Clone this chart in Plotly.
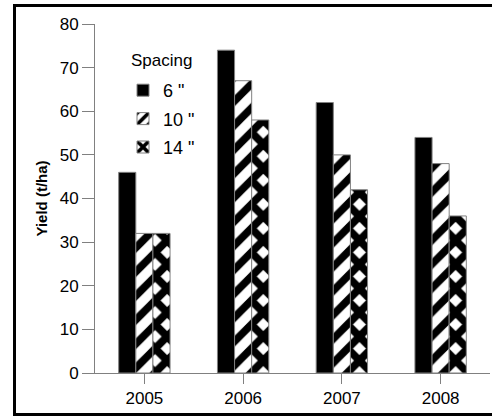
import plotly.graph_objects as go

years = ["2005", "2006", "2007", "2008"]
spacing_labels = ['6 "', '10 "', '14 "']
yield_6 = [46, 74, 62, 54]
yield_10 = [32, 67, 50, 48]
yield_14 = [32, 58, 42, 36]
y_ticks = [0, 10, 20, 30, 40, 50, 60, 70, 80]

W, H = 492, 416
ML, MR, MT, MB = 95, 2, 24, 43
PW, PH = W - ML - MR, H - MT - MB

def px_x(p):
    return (p - ML) / PW

def px_y(p):
    return (H - MB - p) / PH

outline = dict(color="#808080", width=1)
fig = go.Figure()
fig.add_trace(go.Bar(x=years, y=yield_6, name=spacing_labels[0], legendgroup="a",
                     marker=dict(color="black", line=outline)))
fig.add_trace(go.Bar(x=years, y=yield_10, name=spacing_labels[1], legendgroup="b",
                     marker=dict(color="white", line=outline,
                                 pattern=dict(shape="/", fgcolor="black", bgcolor="white",
                                              size=17, solidity=0.45, fillmode="replace"))))
fig.add_trace(go.Bar(x=years, y=yield_14, name=spacing_labels[2], legendgroup="c",
                     marker=dict(color="white", line=outline,
                                 pattern=dict(shape="x", fgcolor="black", bgcolor="white",
                                              size=17, solidity=0.7, fillmode="replace"))))

fig.add_annotation(text="Spacing", xref="paper", yref="paper",
                   x=px_x(129), y=px_y(60), xanchor="left", yanchor="middle",
                   showarrow=False, font=dict(size=17))

font_family = "Liberation Sans, Arial, sans-serif"
fig.update_layout(
    width=W, height=H,
    margin=dict(l=ML, r=MR, t=MT, b=MB),
    paper_bgcolor="white", plot_bgcolor="white",
    barmode="group", bargap=0.48, bargroupgap=0,
    font=dict(family=font_family, size=17, color="black"),
    showlegend=True,
    legend=dict(font=dict(size=18), x=px_x(123), y=px_y(72), xanchor="left", yanchor="top",
                bgcolor="rgba(0,0,0,0)", traceorder="grouped", tracegroupgap=2),
    xaxis=dict(showline=True, linecolor="#808080", linewidth=1,
               ticks="outside", ticklen=10, tickcolor="#808080",
               range=[-0.5, 3.5], tickfont=dict(size=17), showgrid=False, zeroline=False),
    yaxis=dict(showline=True, linecolor="#808080", linewidth=1,
               ticks="outside", ticklen=12, tickcolor="#808080",
               range=[0, 80], tickvals=y_ticks, tickfont=dict(size=17),
               showgrid=False, zeroline=False,
               title=dict(text="<b>Yield (t/ha)</b>", font=dict(size=15), standoff=8)),
)

# outer frame (left, top, bottom edges; right side is cut off in the reference)
frame_js = (
    "document.documentElement.style.overflow='hidden';"
    "document.body.style.overflow='hidden';document.body.style.margin='0';"
    "var f=document.createElement('div');"
    "f.style.cssText='position:fixed;left:13px;top:4px;width:479px;height:412px;"
    "box-sizing:border-box;border-left:3px solid #000;border-top:3px solid #000;"
    "border-bottom:3px solid #000;border-right:none;pointer-events:none;z-index:10;';"
    "document.body.appendChild(f);"
)
fig.write_html("out.html", config={"displayModeBar": False}, post_script=frame_js)
